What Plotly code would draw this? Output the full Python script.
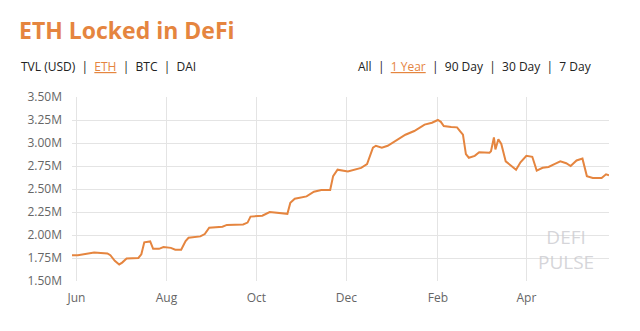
import plotly.graph_objects as go

dates = [
    "2019-05-29", "2019-06-02", "2019-06-13", "2019-06-22", "2019-06-24", "2019-06-27",
    "2019-06-30", "2019-07-02", "2019-07-05", "2019-07-13", "2019-07-15", "2019-07-17",
    "2019-07-21", "2019-07-23", "2019-07-27", "2019-07-30", "2019-08-04", "2019-08-07",
    "2019-08-11", "2019-08-14", "2019-08-16", "2019-08-24", "2019-08-27", "2019-08-30",
    "2019-09-08", "2019-09-11", "2019-09-22", "2019-09-25", "2019-09-27", "2019-10-05",
    "2019-10-10", "2019-10-16", "2019-10-22", "2019-10-24", "2019-10-27", "2019-11-04",
    "2019-11-09", "2019-11-14", "2019-11-20", "2019-11-22", "2019-11-25", "2019-12-02",
    "2019-12-07", "2019-12-11", "2019-12-15", "2019-12-19", "2019-12-21", "2019-12-25",
    "2019-12-29", "2020-01-03", "2020-01-10", "2020-01-16", "2020-01-23", "2020-01-28",
    "2020-02-01", "2020-02-03", "2020-02-05", "2020-02-10", "2020-02-14", "2020-02-16",
    "2020-02-18", "2020-02-20", "2020-02-22", "2020-02-26", "2020-02-29", "2020-03-07",
    "2020-03-08", "2020-03-10", "2020-03-11", "2020-03-13", "2020-03-15", "2020-03-18",
    "2020-03-22", "2020-03-25", "2020-03-28", "2020-04-01", "2020-04-05", "2020-04-08",
    "2020-04-12", "2020-04-16", "2020-04-20", "2020-04-24", "2020-04-28", "2020-05-01",
    "2020-05-05", "2020-05-09", "2020-05-12", "2020-05-16", "2020-05-22", "2020-05-25",
    "2020-05-27",
]
eth_locked = [
    1.78, 1.78, 1.81, 1.80, 1.78, 1.72,
    1.68, 1.70, 1.745, 1.75, 1.79, 1.92,
    1.93, 1.85, 1.85, 1.87, 1.86, 1.84,
    1.84, 1.935, 1.97, 1.985, 2.01, 2.08,
    2.09, 2.11, 2.115, 2.135, 2.20, 2.21,
    2.25, 2.24, 2.23, 2.35, 2.395, 2.42,
    2.47, 2.49, 2.49, 2.64, 2.71, 2.69,
    2.71, 2.73, 2.77, 2.95, 2.97, 2.95,
    2.97, 3.02, 3.09, 3.13, 3.20, 3.22,
    3.25, 3.23, 3.185, 3.175, 3.17, 3.13,
    3.09, 2.88, 2.84, 2.86, 2.90, 2.895,
    2.91, 3.06, 2.93, 3.04, 2.99, 2.80,
    2.75, 2.71, 2.79, 2.86, 2.85, 2.70,
    2.73, 2.74, 2.77, 2.80, 2.78, 2.75,
    2.81, 2.83, 2.64, 2.62, 2.62, 2.66,
    2.65,
]
eth_locked_usd = [v * 1e6 for v in eth_locked]

y_tick_vals = [1.5e6, 1.75e6, 2.0e6, 2.25e6, 2.5e6, 2.75e6, 3.0e6, 3.25e6, 3.5e6]
y_tick_text = ["1.50M", "1.75M", "2.00M", "2.25M", "2.50M", "2.75M", "3.00M", "3.25M", "3.50M"]

ORANGE = "#E5853F"
FONT = "Open Sans"

W, H = 640, 331
L, R, T, B = 72, 31, 97, 50
PW, PH = W - L - R, H - T - B


def px(x):
    return (x - L) / PW


def py(y):
    return 1 - (y - T) / PH


fig = go.Figure()
fig.add_trace(go.Scatter(
    x=dates, y=eth_locked_usd, mode="lines",
    line=dict(color=ORANGE, width=2),
    hoverinfo="x+y",
))

fig.update_layout(
    width=W, height=H,
    margin=dict(l=L, r=R, t=T, b=B),
    paper_bgcolor="white", plot_bgcolor="white",
    showlegend=False,
    font=dict(family=FONT, color="#555555", size=12),
    xaxis=dict(
        range=["2019-05-29", "2020-05-27"],
        tick0="2019-06-01", dtick="M2", tickformat="%b",
        showgrid=True, gridcolor="#e4e4e4", gridwidth=1,
        showline=False, zeroline=False, ticks="",
        ticklabelstandoff=8,
        tickfont=dict(size=12, color="#666666"),
    ),
    yaxis=dict(
        range=[1.5e6, 3.5e6],
        tickvals=y_tick_vals, ticktext=y_tick_text,
        showgrid=True, gridcolor="#e4e4e4", gridwidth=1,
        showline=False, zeroline=False, ticks="",
        ticklabelstandoff=9,
        tickfont=dict(size=12, color="#666666"),
    ),
    annotations=[
        dict(text="<b>ETH Locked in DeFi</b>", x=px(17), y=py(30), xref="paper", yref="paper",
             showarrow=False, font=dict(size=23, color=ORANGE, family=FONT),
             xanchor="left", yanchor="middle"),
        dict(text="TVL (USD)  |  <span style='color:#E5853F'><u>ETH</u></span>  |  BTC  |  DAI",
             x=px(19), y=py(67), xref="paper", yref="paper",
             showarrow=False, font=dict(size=12, color="#222222", family=FONT),
             xanchor="left", yanchor="middle"),
        dict(text="All  |  <span style='color:#E5853F'><u>1 Year</u></span>  |  90 Day  |  30 Day  |  7 Day",
             x=px(594), y=py(67), xref="paper", yref="paper",
             showarrow=False, font=dict(size=12, color="#222222", family=FONT),
             xanchor="right", yanchor="middle"),
        dict(text="DEFI<br>PULSE", x=px(566), y=py(249), xref="paper", yref="paper",
             showarrow=False,
             font=dict(size=19, color="rgba(200,200,205,0.75)", family=FONT),
             xanchor="center", yanchor="middle", align="center"),
    ],
)

fig.write_html("out.html")
